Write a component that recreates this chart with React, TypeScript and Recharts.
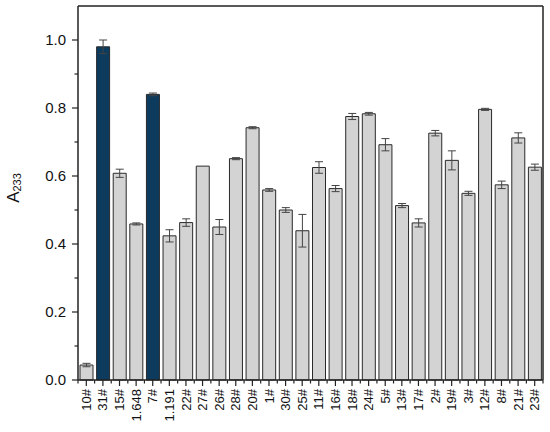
import { BarChart, Bar, XAxis, YAxis, ErrorBar, Cell } from "recharts";

const samples = [
  "10#", "31#", "15#", "1.648", "7#", "1.191", "22#", "27#", "26#", "28#",
  "20#", "1#", "30#", "25#", "11#", "16#", "18#", "24#", "5#", "13#",
  "17#", "2#", "19#", "3#", "12#", "8#", "21#", "23#"
];
const absorbance = [
  0.044, 0.98, 0.608, 0.459, 0.84, 0.424, 0.463, 0.629, 0.45, 0.651,
  0.742, 0.559, 0.5, 0.439, 0.625, 0.563, 0.775, 0.783, 0.692, 0.513,
  0.462, 0.726, 0.646, 0.549, 0.796, 0.574, 0.712, 0.626
];
const errors = [
  0.005, 0.02, 0.012, 0.003, 0.004, 0.018, 0.011, 0, 0.022, 0.003,
  0.003, 0.004, 0.007, 0.048, 0.017, 0.009, 0.009, 0.004, 0.018, 0.006,
  0.012, 0.008, 0.028, 0.006, 0.003, 0.011, 0.015, 0.009
];
const highlighted = ["31#", "7#"];
const yTicks = [0, 0.1, 0.2, 0.3, 0.4, 0.5, 0.6, 0.7, 0.8, 0.9, 1.0];

const data = samples.map((name, i) => ({ name, value: absorbance[i], err: errors[i] }));

const FONT = "'Liberation Sans', Arial, sans-serif";
const INK = "#222";

const XTick = (props: any) => {
  const { x, y, payload, index, width, visibleTicksCount } = props;
  const step = width / visibleTicksCount;
  return (
    <g>
      <line x1={x} y1={y} x2={x} y2={y + 6} stroke={INK} strokeWidth={1.2} />
      <line x1={x - step / 2} y1={y} x2={x - step / 2} y2={y + 3.5} stroke={INK} strokeWidth={1.2} />
      {index === visibleTicksCount - 1 && (
        <line x1={x + step / 2} y1={y} x2={x + step / 2} y2={y + 3.5} stroke={INK} strokeWidth={1.2} />
      )}
      <text
        x={0}
        y={0}
        dy="0.35em"
        textAnchor="end"
        fontSize={13}
        fontFamily={FONT}
        fill="#111"
        transform={`translate(${x},${y + 9}) rotate(-90)`}
      >
        {payload.value}
      </text>
    </g>
  );
};

const YTick = (props: any) => {
  const { x, y, payload, index } = props;
  const major = index % 2 === 0;
  return (
    <g>
      <line x1={x - (major ? 6 : 3.5)} y1={y} x2={x} y2={y} stroke={INK} strokeWidth={1.2} />
      {major && (
        <text x={x - 12} y={y} dy="0.36em" textAnchor="end" fontSize={15} fontFamily={FONT} fill="#111">
          {Number(payload.value).toFixed(1)}
        </text>
      )}
    </g>
  );
};

const YLabel = (props: any) => {
  const { viewBox } = props;
  const cx = 19;
  const cy = viewBox.y + viewBox.height / 2 - 5;
  return (
    <text
      transform={`translate(${cx},${cy}) rotate(-90)`}
      textAnchor="middle"
      fontFamily={FONT}
      fill="#111"
      fontSize={17}
    >
      A<tspan fontSize={11} dy={2}>233</tspan>
    </text>
  );
};

export default function App() {
  return (
    <div style={{ position: "absolute", left: 0, top: 0, background: "#fff" }}>
      <BarChart
        width={550}
        height={432}
        data={data}
        margin={{ top: 5, right: 6, left: 8, bottom: 6 }}
        barSize={13}
      >
        <XAxis
          dataKey="name"
          interval={0}
          height={46}
          tickSize={0}
          tickMargin={0}
          tickLine={false}
          tick={<XTick />}
          axisLine={{ stroke: INK, strokeWidth: 1.5 }}
        />
        <XAxis
          xAxisId="top"
          dataKey="name"
          orientation="top"
          height={1}
          tick={false}
          tickLine={false}
          axisLine={{ stroke: INK, strokeWidth: 1.5 }}
        />
        <YAxis
          domain={[0, 1.1]}
          ticks={yTicks}
          interval={0}
          width={70}
          tickSize={0}
          tickMargin={0}
          tickLine={false}
          tick={<YTick />}
          axisLine={{ stroke: INK, strokeWidth: 1.5 }}
          label={<YLabel />}
        />
        <YAxis
          yAxisId="right"
          orientation="right"
          domain={[0, 1.1]}
          width={1}
          tick={false}
          tickLine={false}
          axisLine={{ stroke: INK, strokeWidth: 1.5 }}
        />
        <Bar dataKey="value" isAnimationActive={false} stroke="#2a2a2a" strokeWidth={1}>
          {data.map((d) => (
            <Cell key={d.name} fill={highlighted.includes(d.name) ? "#0c3b5e" : "#d3d3d3"} />
          ))}
          <ErrorBar dataKey="err" width={4} stroke="#444" strokeWidth={1} direction="y" />
        </Bar>
      </BarChart>
    </div>
  );
}
